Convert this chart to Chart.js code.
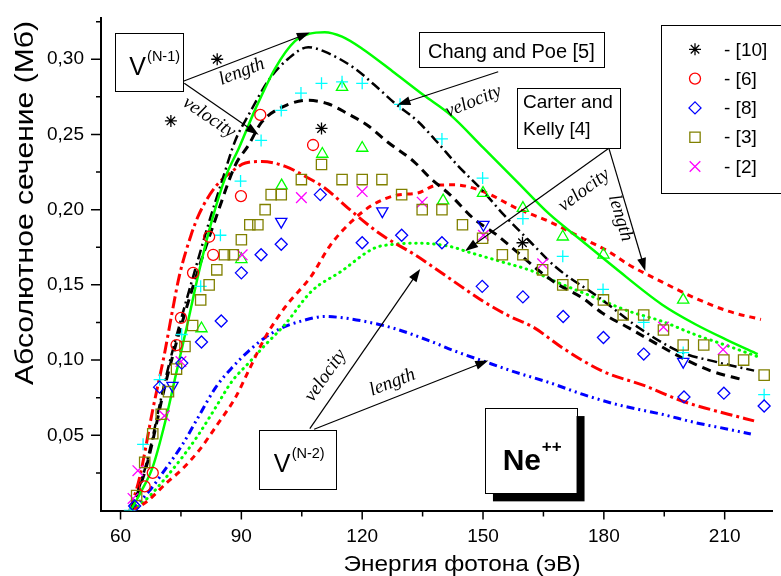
<!DOCTYPE html>
<html>
<head>
<meta charset="utf-8">
<script src="https://cdn.jsdelivr.net/npm/chart.js@4.4.1/dist/chart.umd.min.js"></script>
<style>
  html, body { margin: 0; padding: 0; background: #fff; }
  canvas { display: block; }
</style>
</head>
<body>
<canvas id="grafico" width="781" height="576"></canvas>
<script>
// === Абсолютное сечение фотоионизации Ne++ ===

// Деления осей
const ticksX = [60, 90, 120, 150, 180, 210];
const ticksXMinor = [75, 105, 135, 165, 195];
const ticksY = [0.05, 0.10, 0.15, 0.20, 0.25, 0.30];
const ticksYMinor = [0.025, 0.075, 0.125, 0.175, 0.225, 0.275, 0.325];

// Расчёт V(N-1), length (зелёная сплошная)
const lenN1E = [62.5, 65, 68, 71, 73.8, 76.7, 79.5, 82.7, 86.1, 89.4, 93.5, 98.4, 103.3, 107, 110.7, 115, 120, 128, 135.3, 141.9, 150.1, 158.3, 166.5, 174.7, 182.9, 194.4, 202.6, 210.9, 218.2];
const lenN1S = [0, 0.012, 0.029, 0.058, 0.091, 0.125, 0.159, 0.193, 0.222, 0.241, 0.267, 0.294, 0.312, 0.317, 0.318, 0.315, 0.307, 0.291, 0.276, 0.263, 0.241, 0.219, 0.197, 0.179, 0.161, 0.137, 0.124, 0.113, 0.104];

// Расчёт V(N-1), velocity (чёрная штриховая)
const velN1E = [62.7, 66.5, 71.5, 78.7, 84, 88.5, 91.8, 95, 100, 106.6, 111.5, 116.4, 121.3, 126.3, 132.9, 136.9, 141.9, 147.6, 153.4, 158.3, 164.1, 168.2, 174.7, 179.6, 186.2, 191.9, 199.4, 206.7, 214.1];
const velN1S = [0, 0.03, 0.088, 0.155, 0.197, 0.2296, 0.243, 0.258, 0.268, 0.2727, 0.2704, 0.2638, 0.2561, 0.245, 0.2318, 0.221, 0.2097, 0.1942, 0.1832, 0.1722, 0.159, 0.151, 0.1413, 0.1313, 0.1214, 0.1126, 0.1015, 0.0927, 0.0872];

// Chang and Poe [5] (чёрная штрих-пунктирная)
const changPoeE = [62.7, 66.4, 71.3, 74.5, 78.3, 82, 85.3, 88.5, 91.8, 96.75, 101.7, 106.6, 110.7, 118.1, 123, 128, 133.7, 138.6, 143.5, 150.1, 155, 161.6, 168.2, 178.8, 188.6, 198.5, 208.3, 217.3];
const changPoeS = [0, 0.031, 0.089, 0.122, 0.158, 0.192, 0.220, 0.246, 0.263, 0.286, 0.3005, 0.308, 0.305, 0.294, 0.283, 0.271, 0.259, 0.245, 0.230, 0.212, 0.197, 0.179, 0.1615, 0.1416, 0.1217, 0.106, 0.0985, 0.093];

// Расчёт V(N-2), velocity (красная штрих-пунктирная)
const velN2E = [62.3, 64.75, 68.0, 70.9, 72.9, 74.6, 77.5, 79.5, 83.5, 87.7, 91, 95.1, 100.9, 105.8, 110.7, 116.4, 124.6, 132.9, 137.8, 144, 150.1, 156.7, 162.4, 169.8, 179.6, 190.3, 199.4, 210.9, 217.3];
const velN2S = [0, 0.022, 0.067, 0.104, 0.133, 0.156, 0.183, 0.197, 0.215, 0.2255, 0.231, 0.232, 0.2288, 0.2222, 0.2144, 0.2012, 0.1836, 0.1703, 0.1615, 0.150, 0.139, 0.129, 0.122, 0.108, 0.0927, 0.0828, 0.0728, 0.064, 0.0596];

// Расчёт V(N-2), length (синяя штрих-пунктирная с двумя точками)
const lenN2E = [62.7, 67.2, 71, 75.4, 79.5, 83.6, 87.7, 91.8, 95.9, 100, 105, 110.7, 115.5, 120.5, 128, 136.9, 143, 150.1, 158, 166.5, 175, 182.9, 189, 194.4, 202.6, 210.9, 216.5];
const lenN2S = [0, 0.0132, 0.027, 0.044, 0.063, 0.0817, 0.095, 0.106, 0.115, 0.1214, 0.126, 0.129, 0.128, 0.1258, 0.121, 0.1126, 0.106, 0.0993, 0.092, 0.085, 0.077, 0.0707, 0.067, 0.064, 0.0585, 0.054, 0.0508];

// Carter and Kelly [4], length (красная штриховая)
const carterLenE = [63.1, 67, 71.3, 75.5, 79.5, 84, 88.5, 92, 95.9, 100.8, 107.4, 112, 117.3, 122.5, 128.7, 133.7, 138.6, 143, 150.1, 158.3, 166.5, 174.7, 181.3, 186.2, 194.4, 202.6, 210.9, 219];
const carterLenS = [0, 0.007, 0.018, 0.028, 0.040, 0.057, 0.075, 0.094, 0.115, 0.135, 0.156, 0.176, 0.192, 0.203, 0.2097, 0.211, 0.2163, 0.2165, 0.212, 0.201, 0.192, 0.181, 0.172, 0.1634, 0.152, 0.1413, 0.1325, 0.127];

// Carter and Kelly [4], velocity (зелёная пунктирная)
const carterVelE = [63.1, 67, 71.3, 75.5, 79.5, 83.5, 87.7, 91.8, 95.9, 100.8, 107.4, 114.8, 123, 128, 133.7, 141.9, 146.1, 154.3, 162.4, 168.2, 178, 186.2, 194.4, 202.6, 210.9, 219];
const carterVelS = [0, 0.009, 0.022, 0.036, 0.051, 0.068, 0.086, 0.098, 0.110, 0.1236, 0.1457, 0.159, 0.1744, 0.177, 0.1777, 0.1755, 0.172, 0.1656, 0.159, 0.152, 0.1413, 0.1325, 0.1258, 0.117, 0.1093, 0.1015];

// Эксперимент
const ref10E = [72.5, 84.0, 109.9, 159.8];
const ref10S = [0.259, 0.300, 0.254, 0.178];

const ref6E = [66.0, 68.0, 73.9, 75.0, 78.0, 82.0, 83.0, 89.9, 94.7, 107.8];
const ref6S = [0.016, 0.025, 0.110, 0.128, 0.158, 0.182, 0.170, 0.209, 0.263, 0.243];

const ref8E = [63.5, 69.7, 75.2, 80.1, 85.0, 90.0, 94.9, 99.9, 109.6, 120.0, 129.8, 139.8, 149.8, 159.9, 169.9, 179.9, 189.9, 199.9, 209.8, 219.8];
const ref8S = [0.003, 0.082, 0.098, 0.112, 0.126, 0.158, 0.170, 0.177, 0.210, 0.178, 0.183, 0.178, 0.149, 0.142, 0.129, 0.115, 0.104, 0.0755, 0.078, 0.0695];

const ref3E = [64.0, 66.0, 68.0, 70.1, 71.9, 73.9, 76.0, 77.9, 79.9, 82.0, 83.9, 85.8, 88.0, 90.0, 92.1, 94.1, 95.9, 97.4, 99.9, 104.9, 109.9, 115.0, 120.0, 124.9, 129.8, 134.9, 139.8, 144.9, 149.9, 154.8, 159.9, 164.8, 169.8, 174.8, 179.9, 184.8, 189.9, 194.8, 199.7, 204.8, 209.8, 214.7, 219.8];
const ref3S = [0.010, 0.032, 0.051, 0.064, 0.079, 0.094, 0.109, 0.123, 0.140, 0.150, 0.160, 0.170, 0.170, 0.180, 0.190, 0.190, 0.200, 0.210, 0.210, 0.220, 0.230, 0.220, 0.220, 0.220, 0.210, 0.200, 0.200, 0.190, 0.181, 0.170, 0.170, 0.160, 0.150, 0.150, 0.140, 0.130, 0.130, 0.120, 0.110, 0.110, 0.100, 0.100, 0.090];

const ref2E = [63.1, 64.3, 70.9, 75.0, 90.2, 104.9, 120.0, 134.9, 150.1, 164.8, 194.8, 209.6];
const ref2S = [0.008, 0.0265, 0.063, 0.099, 0.170, 0.208, 0.212, 0.205, 0.183, 0.164, 0.122, 0.107];

// Прочие данные без подписи в легенде
const crossE = [62.3, 65.6, 69.7, 75.2, 79.9, 84.8, 89.8, 94.9, 99.9, 104.8, 109.9, 115.0, 120.0, 129.4, 139.8, 149.9, 159.9, 169.8, 179.8, 189.9, 199.7, 219.8];
const crossS = [0.0, 0.044, 0.087, 0.117, 0.149, 0.183, 0.219, 0.246, 0.266, 0.2775, 0.284, 0.285, 0.284, 0.270, 0.247, 0.221, 0.194, 0.169, 0.147, 0.125, 0.105, 0.077];

const triUpE = [80.1, 90.0, 100.0, 110.1, 115.0, 120.0, 140.1, 150.0, 159.9, 169.8, 179.9, 199.7];
const triUpS = [0.121, 0.167, 0.216, 0.237, 0.2815, 0.241, 0.206, 0.211, 0.201, 0.182, 0.170, 0.140];

const triDownE = [72.9, 99.9, 125.0, 150.1, 199.7];
const triDownS = [0.083, 0.192, 0.199, 0.190, 0.099];

// --- Построение наборов данных ---
const pts = (xs, ys) => xs.map((x, i) => ({ x, y: ys[i] }));

function curva(label, xs, ys, cor, largura, traco, cap) {
  return {
    label, data: pts(xs, ys), showLine: true,
    borderColor: cor, borderWidth: largura, borderDash: traco,
    borderCapStyle: cap || 'butt',
    pointRadius: 0, pointHoverRadius: 0,
    cubicInterpolationMode: 'monotone', fill: false, order: 2
  };
}

function pontos(label, xs, ys, estilo, cor, raio, rot) {
  return {
    label, data: pts(xs, ys), showLine: false,
    pointStyle: estilo, pointRadius: raio, pointRotation: rot || 0,
    pointBorderColor: cor, pointBackgroundColor: 'rgba(0,0,0,0)',
    pointBorderWidth: 1.3, order: 1
  };
}

const datasets = [
  pontos('[10]', ref10E, ref10S, 'star', '#000000', 6),
  pontos('[6]', ref6E, ref6S, 'circle', '#ff0000', 5.5),
  pontos('[8]', ref8E, ref8S, 'rectRot', '#0000ff', 6),
  pontos('[3]', ref3E, ref3S, 'rect', '#808000', 7.3),
  pontos('[2]', ref2E, ref2S, 'crossRot', '#ff00ff', 7.5),
  pontos('+', crossE, crossS, 'cross', '#00ffff', 6),
  pontos('tri', triUpE, triUpS, 'triangle', '#00ff00', 6.5),
  pontos('tri2', triDownE, triDownS, 'triangle', '#0000ff', 6.5, 180),
  curva('V(N-1) length', lenN1E, lenN1S, '#00ff00', 2.5, []),
  curva('Chang and Poe', changPoeE, changPoeS, '#000000', 2.5, [10, 4, 2, 4]),
  curva('V(N-1) velocity', velN1E, velN1S, '#000000', 3, [9, 6]),
  curva('V(N-2) velocity', velN2E, velN2S, '#ff0000', 3, [12, 4, 3, 4]),
  curva('Carter length', carterLenE, carterLenS, '#ff0000', 3, [6, 5]),
  curva('Carter velocity', carterVelE, carterVelS, '#00ff00', 3, [0.5, 5.5], 'round'),
  curva('V(N-2) length', lenN2E, lenN2S, '#0000ff', 3, [8, 4, 2, 4, 2, 4])
];

const FONTE = '"Liberation Sans", Arial, sans-serif';
const FONTE_IT = 'italic 19px "Liberation Serif", "Times New Roman", serif';

// Подписи на графике (координаты в единицах осей)
const caixasV = [
  { x1: 58.6, y1: 0.3175, x2: 75.58, y2: 0.2788, sup: '(N-1)' },
  { x1: 94.5, y1: 0.0533, x2: 113.6, y2: 0.0142, sup: '(N-2)' }
];
const setas = [
  [75.58, 0.2854, 107.0, 0.3177, true],
  [75.83, 0.2841, 94.3, 0.2498, true],
  [153.77, 0.2917, 128.74, 0.2697, true],
  [181.24, 0.2409, 145.55, 0.1725, true],
  [181.24, 0.2409, 190.28, 0.1593, true],
  [107.0, 0.0544, 134.4, 0.1606, true],
  [108.07, 0.0540, 151.31, 0.0997, true]
];
const rotulos = [
  ['length', 90.1, 0.2917, -21],
  ['velocity', 81.98, 0.2613, 34],
  ['velocity', 147.62, 0.2719, -22],
  ['velocity', 175.09, 0.2129, -37],
  ['length', 184.12, 0.1944, 73],
  ['velocity', 110.9, 0.0897, -55],
  ['length', 127.51, 0.0851, -21]
];

const marcas = {
  id: 'marcas',
  afterDraw(chart) {
    const { ctx, chartArea: a, scales: { x, y } } = chart;
    ctx.save();
    ctx.strokeStyle = '#000';
    ctx.lineWidth = 1.5;
    ctx.beginPath();
    ticksX.forEach(v => { const p = x.getPixelForValue(v); ctx.moveTo(p, a.bottom); ctx.lineTo(p, a.bottom + 9); });
    ticksXMinor.forEach(v => { const p = x.getPixelForValue(v); ctx.moveTo(p, a.bottom); ctx.lineTo(p, a.bottom + 6); });
    ticksY.forEach(v => { const p = y.getPixelForValue(v); ctx.moveTo(a.left, p); ctx.lineTo(a.left - 10, p); });
    ticksYMinor.forEach(v => { const p = y.getPixelForValue(v); ctx.moveTo(a.left, p); ctx.lineTo(a.left - 5, p); });
    ctx.stroke();
    ctx.restore();
  }
};

// Подписи осей (слегка растянуты вдоль строки, как в оригинале)
function textoEsticado(ctx, txt, font, cx, cy, ang, larg) {
  ctx.save();
  ctx.font = font;
  const w = ctx.measureText(txt).width;
  ctx.translate(cx, cy);
  ctx.rotate(ang);
  ctx.scale(larg / w, 1);
  ctx.textAlign = 'center';
  ctx.textBaseline = 'alphabetic';
  ctx.fillStyle = '#000';
  ctx.fillText(txt, 0, 0);
  ctx.restore();
}

const titulos = {
  id: 'titulos',
  afterDraw(chart) {
    const { ctx, chartArea: a } = chart;
    textoEsticado(ctx, 'Энергия фотона (эВ)', '22px ' + FONTE, 462, a.bottom + 60, 0, 237);
    textoEsticado(ctx, 'Абсолютное сечение (Мб)', '25px ' + FONTE, 33.4, 203, -Math.PI / 2, 364);
  }
};

function seta(ctx, x1, y1, x2, y2) {
  const ang = Math.atan2(y2 - y1, x2 - x1);
  ctx.beginPath();
  ctx.moveTo(x1, y1);
  ctx.lineTo(x2 - 10 * Math.cos(ang), y2 - 10 * Math.sin(ang));
  ctx.stroke();
  ctx.beginPath();
  ctx.moveTo(x2, y2);
  ctx.lineTo(x2 - 13 * Math.cos(ang) + 4.5 * Math.sin(ang), y2 - 13 * Math.sin(ang) - 4.5 * Math.cos(ang));
  ctx.lineTo(x2 - 13 * Math.cos(ang) - 4.5 * Math.sin(ang), y2 - 13 * Math.sin(ang) + 4.5 * Math.cos(ang));
  ctx.closePath();
  ctx.fill();
}

function caixa(ctx, l, t, r, b) {
  ctx.fillStyle = '#fff';
  ctx.fillRect(l, t, r - l, b - t);
  ctx.strokeRect(Math.round(l) + 0.5, Math.round(t) + 0.5, Math.round(r - l), Math.round(b - t));
  ctx.fillStyle = '#000';
}

const anotacoes = {
  id: 'anotacoes',
  afterDraw(chart) {
    const { ctx, scales: { x, y } } = chart;
    const px = v => x.getPixelForValue(v);
    const py = v => y.getPixelForValue(v);
    ctx.save();
    ctx.strokeStyle = '#000';
    ctx.fillStyle = '#000';
    ctx.lineWidth = 1.2;

    setas.forEach(s => seta(ctx, px(s[0]), py(s[1]), px(s[2]), py(s[3])));

    ctx.lineWidth = 1;
    // V(N-1), V(N-2)
    caixasV.forEach(c => {
      const l = px(c.x1), t = py(c.y1);
      caixa(ctx, l, t, px(c.x2), py(c.y2));
      ctx.textAlign = 'left';
      ctx.textBaseline = 'alphabetic';
      ctx.font = '25px ' + FONTE;
      ctx.fillText('V', l + 14.3, t + 42);
      const wv = ctx.measureText('V').width;
      ctx.font = '14.5px ' + FONTE;
      ctx.fillText(c.sup, l + 15.5 + wv, t + 27.6);
    });

    // Chang and Poe [5]
    let l = px(134.08), t = py(0.3178), r = px(180.01), b = py(0.2946);
    caixa(ctx, l, t, r, b);
    ctx.font = '20px ' + FONTE;
    ctx.textAlign = 'center';
    ctx.fillText('Chang and Poe [5]', (l + r) / 2, t + 26);

    // Carter and Kelly [4]
    l = px(158.45); t = py(0.2811); r = px(184.12); b = py(0.2414);
    caixa(ctx, l, t, r, b);
    ctx.font = '19px ' + FONTE;
    ctx.textAlign = 'left';
    ctx.fillText('Carter and', l + 6, t + 20.7);
    ctx.fillText('Kelly [4]', l + 6, t + 47.3);

    // Ne++
    l = px(150.48); t = py(0.0681); r = px(173.22); b = py(0.0114);
    ctx.fillRect(l + 8, t + 8, r - l, b - t);
    caixa(ctx, l, t, r, b);
    ctx.font = 'bold 30px ' + FONTE;
    ctx.fillText('Ne', l + 17.7, t + 62.3);
    const wn = ctx.measureText('Ne').width;
    ctx.font = 'bold 17px ' + FONTE;
    ctx.fillText('++', l + 18.5 + wn, t + 44);

    // length / velocity
    ctx.font = FONTE_IT;
    ctx.textAlign = 'center';
    ctx.textBaseline = 'middle';
    rotulos.forEach(([txt, vx, vy, ang]) => {
      ctx.save();
      ctx.translate(px(vx), py(vy));
      ctx.rotate(ang * Math.PI / 180);
      ctx.fillText(txt, 0, 0);
      ctx.restore();
    });
    ctx.restore();
  }
};

// Легенда
const legenda = {
  id: 'legenda',
  afterDraw(chart) {
    const { ctx } = chart;
    ctx.save();
    ctx.lineWidth = 1;
    ctx.strokeStyle = '#000';
    caixa(ctx, 660.5, 25, 790, 192.5);
    const draw = Chart.helpers && Chart.helpers.drawPoint;
    for (let i = 0; i < 5; i++) {
      const ds = chart.data.datasets[i];
      const yy = 49.3 + i * 29.3;
      ctx.strokeStyle = ds.pointBorderColor;
      ctx.fillStyle = 'rgba(0,0,0,0)';
      ctx.lineWidth = 1.3;
      if (draw) {
        draw(ctx, { pointStyle: ds.pointStyle, radius: ds.pointRadius, rotation: 0, borderWidth: 1.3 }, 695, yy);
      }
      ctx.fillStyle = '#000';
      ctx.font = '19px ' + FONTE;
      ctx.textAlign = 'left';
      ctx.textBaseline = 'middle';
      ctx.fillText('- ' + ds.label, 724, yy + 1);
    }
    ctx.restore();
  }
};

const fmtY = v => v.toFixed(2).replace('.', ',');
const temY = v => ticksY.some(t => Math.abs(t - v) < 1e-9);

new Chart(document.getElementById('grafico'), {
  type: 'scatter',
  data: { datasets },
  options: {
    responsive: false,
    animation: false,
    devicePixelRatio: 1,
    events: [],
    layout: { padding: { top: 16.5, right: 3, left: 0, bottom: 0 } },
    plugins: { legend: { display: false }, tooltip: { enabled: false } },
    scales: {
      x: {
        type: 'linear', min: 55.15, max: 221.8,
        afterBuildTicks: s => { s.ticks = ticksX.concat(ticksXMinor).sort((a, b) => a - b).map(v => ({ value: v })); },
        afterFit: s => { s.height = 65.5; },
        ticks: {
          autoSkip: false, maxRotation: 0, padding: 5, color: '#000',
          font: { family: FONTE, size: 19 },
          callback: v => ticksX.includes(v) ? String(v) : ''
        },
        grid: { display: true, drawOnChartArea: false, drawTicks: true, tickLength: 10, color: 'rgba(0,0,0,0)' },
        border: { display: true, color: '#000', width: 2 }
      },
      y: {
        type: 'linear', min: 0, max: 0.32715,
        afterBuildTicks: s => { s.ticks = ticksY.concat(ticksYMinor).sort((a, b) => a - b).map(v => ({ value: v })); },
        afterFit: s => { s.width = 101; },
        ticks: {
          autoSkip: false, padding: 7, color: '#000',
          font: { family: FONTE, size: 19 },
          callback: v => temY(v) ? fmtY(v) : ''
        },
        grid: { display: true, drawOnChartArea: false, drawTicks: true, tickLength: 10, color: 'rgba(0,0,0,0)' },
        border: { display: true, color: '#000', width: 2 }
      }
    }
  },
  plugins: [marcas, titulos, anotacoes, legenda]
});
</script>
</body>
</html>
